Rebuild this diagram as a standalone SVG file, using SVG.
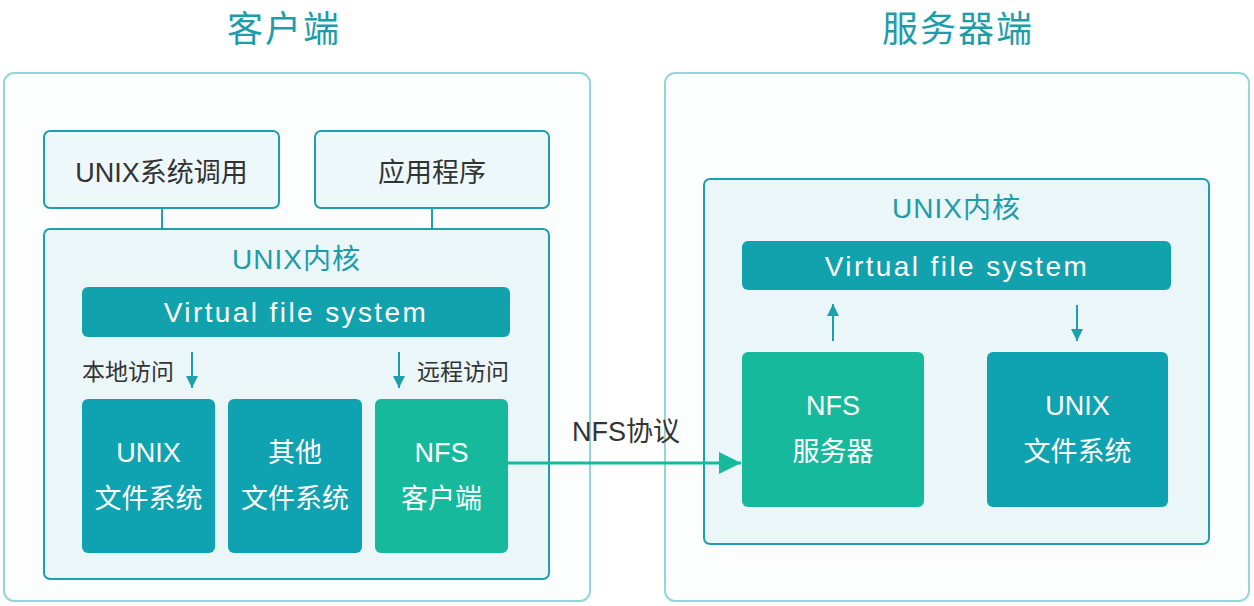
<svg xmlns="http://www.w3.org/2000/svg" width="1254" height="606" viewBox="0 0 1254 606">
<defs>
<style>
.t{font-family:"Liberation Sans","Noto Sans CJK SC",sans-serif;text-anchor:middle}
.title{font-size:36px;fill:#1e9ca7;letter-spacing:2px}
.outer{fill:#fcfefe;stroke:#93d5d9;stroke-width:2}
.kern{fill:#ebf6f9;stroke:#1ea0ab;stroke-width:2}
.top{fill:#eef8fa;stroke:#1ea0ab;stroke-width:2}
.vfs{fill:#12a2ad}
.fs{fill:#0fa2b0}
.nfs{fill:#17b99d}
.dark{font-size:27px;fill:#333}
.klabel{font-size:28px;fill:#1e9ca7;letter-spacing:1px}
.vlabel{font-size:28px;fill:#fff;letter-spacing:2.4px}
.blabel{font-size:27px;fill:#fff}
.small{font-size:23px;fill:#333}
.ln{stroke:#1ea0ab;stroke-width:2;fill:none}
</style>
<marker id="ah" viewBox="0 0 10 10" refX="10" refY="5" markerWidth="6" markerHeight="6" orient="auto" markerUnits="strokeWidth">
<path d="M0,0 L10,5 L0,10 z" fill="#1ea0ab"/>
</marker>
<marker id="big" viewBox="0 0 10 10" refX="10" refY="5" markerWidth="7.5" markerHeight="8.5" orient="auto" markerUnits="strokeWidth">
<path d="M0,0 L10,5 L0,10 z" fill="#17b99d"/>
</marker>
</defs>

<g id="client">
<text class="t title" x="284" y="42">客户端</text>
<rect class="outer" x="4" y="73" width="586" height="528" rx="10"/>
</g>
<g id="server">
<text class="t title" x="958" y="42">服务器端</text>
<rect class="outer" x="665" y="73" width="584" height="528" rx="10"/>
</g>

<g id="unix-syscall">
<rect class="top" x="44" y="131" width="235" height="77" rx="6"/>
<text class="t dark" x="161.5" y="182">UNIX系统调用</text>
</g>
<g id="app">
<rect class="top" x="315" y="131" width="234" height="77" rx="6"/>
<text class="t dark" x="432" y="182">应用程序</text>
</g>

<g id="client-kernel">
<rect class="kern" x="44" y="229" width="505" height="350" rx="6"/>
<text class="t klabel" x="296.5" y="269">UNIX内核</text>
</g>
<g id="client-vfs">
<rect class="vfs" x="82" y="287" width="428" height="50" rx="6"/>
<text class="t vlabel" x="296" y="322">Virtual file system</text>
</g>
<g id="client-unixfs">
<rect class="fs" x="82" y="399" width="133" height="154" rx="6"/>
<text class="t blabel" x="148.5" y="462">UNIX</text>
<text class="t blabel" x="148.5" y="508">文件系统</text>
</g>
<g id="client-otherfs">
<rect class="fs" x="228" y="399" width="134" height="154" rx="6"/>
<text class="t blabel" x="295" y="462">其他</text>
<text class="t blabel" x="295" y="508">文件系统</text>
</g>
<g id="nfs-client">
<rect class="nfs" x="375" y="399" width="133" height="154" rx="6"/>
<text class="t blabel" x="441.5" y="462">NFS</text>
<text class="t blabel" x="441.5" y="508">客户端</text>
</g>
<g id="labels">
<text class="t small" x="128" y="380">本地访问</text>
<text class="t small" x="463" y="380">远程访问</text>
<text class="t" x="626" y="441" style="font-size:27px;fill:#333">NFS协议</text>
</g>

<g id="server-kernel">
<rect class="kern" x="704" y="179" width="505" height="365" rx="6"/>
<text class="t klabel" x="956.5" y="218">UNIX内核</text>
</g>
<g id="server-vfs">
<rect class="vfs" x="742" y="241" width="429" height="49" rx="6"/>
<text class="t vlabel" x="957" y="276">Virtual file system</text>
</g>
<g id="nfs-server">
<rect class="nfs" x="742" y="352" width="182" height="155" rx="6"/>
<text class="t blabel" x="833" y="415">NFS</text>
<text class="t blabel" x="833" y="461">服务器</text>
</g>
<g id="server-unixfs">
<rect class="fs" x="987" y="352" width="181" height="155" rx="6"/>
<text class="t blabel" x="1077.5" y="415">UNIX</text>
<text class="t blabel" x="1077.5" y="461">文件系统</text>
</g>

<g id="connectors">
<line class="ln" x1="162" y1="208" x2="162" y2="229"/>
<line class="ln" x1="432" y1="208" x2="432" y2="229"/>
<line class="ln" x1="192" y1="352" x2="192" y2="388" marker-end="url(#ah)"/>
<line class="ln" x1="399" y1="352" x2="399" y2="388" marker-end="url(#ah)"/>
<line class="ln" x1="833" y1="341" x2="833" y2="304" marker-end="url(#ah)"/>
<line class="ln" x1="1077" y1="305" x2="1077" y2="341" marker-end="url(#ah)"/>
<line x1="508" y1="463" x2="741" y2="463" stroke="#17b99d" stroke-width="3" marker-end="url(#big)"/>
</g>
</svg>
